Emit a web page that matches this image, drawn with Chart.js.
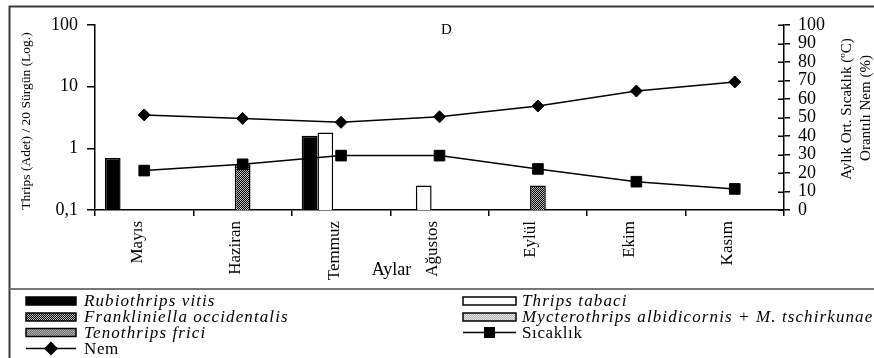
<!DOCTYPE html>
<html>
<head>
<meta charset="utf-8">
<script src="https://cdn.jsdelivr.net/npm/chart.js@4.4.1/dist/chart.umd.min.js"></script>
<style>
  html, body { margin: 0; padding: 0; background: #fff; }
  #wrap { width: 874px; height: 358px; position: relative; }
</style>
</head>
<body>
<div id="wrap"><canvas id="c" width="874" height="358"></canvas></div>
<script>
// Months on the x axis
const months = ['Mayıs', 'Haziran', 'Temmuz', 'Ağustos', 'Eylül', 'Ekim', 'Kasım'];

// Thrips counts per 20 shoots (log axis)
const rubiothripsVitis = [0.7, null, 1.6, null, null, null, null];
const thripsTabaci     = [null, null, 1.8, 0.25, null, null, null];
const franklOccident   = [null, 0.55, null, null, 0.25, null, null];
const mycterothrips    = [null, null, null, null, null, null, null];
const tenothripsFrici  = [null, null, null, null, null, null, null];

// Monthly mean temperature (°C) and relative humidity (%)
const nem      = [51.4, 49.5, 47.4, 50.4, 56.2, 64.3, 69.2];
const sicaklik = [21.3, 24.7, 29.4, 29.4, 22.2, 15.3, 11.4];

// Axis tick values
const logTicks = [0.1, 1, 10, 100];
const rightTicks = [0, 10, 20, 30, 40, 50, 60, 70, 80, 90, 100];

const SERIF = '"Liberation Serif", "Times New Roman", serif';

// small checkerboard fills for the hatched bars
function checker(a, b, cell) {
  const cv = document.createElement('canvas');
  cv.width = cv.height = cell * 2;
  const g = cv.getContext('2d');
  g.fillStyle = a; g.fillRect(0, 0, cell * 2, cell * 2);
  g.fillStyle = b;
  g.fillRect(0, 0, cell, cell);
  g.fillRect(cell, cell, cell, cell);
  return g.createPattern(cv, 'repeat');
}
const ctx = document.getElementById('c').getContext('2d');
const fillFrankl = checker('#000000', '#bdbdbd', 1);
const fillMycter = checker('#b4b4b4', '#e6e6e6', 1);
const fillTeno   = checker('#6e6e6e', '#b0b0b0', 1);

const barBase = { type: 'bar', yAxisID: 'y', borderColor: '#000', borderWidth: 1.5,
  categoryPercentage: 0.8, barPercentage: 1.0, order: 2 };

const datasets = [
  Object.assign({}, barBase, { label: 'Rubiothrips vitis', data: rubiothripsVitis, backgroundColor: '#000' }),
  Object.assign({}, barBase, { label: 'Thrips tabaci', data: thripsTabaci, backgroundColor: '#fff' }),
  Object.assign({}, barBase, { label: 'Frankliniella occidentalis', data: franklOccident, backgroundColor: fillFrankl }),
  Object.assign({}, barBase, { label: 'Mycterothrips albidicornis + M. tschirkunae', data: mycterothrips, backgroundColor: fillMycter }),
  Object.assign({}, barBase, { label: 'Tenothrips frici', data: tenothripsFrici, backgroundColor: fillTeno }),
  { type: 'line', label: 'Sıcaklık', data: sicaklik, yAxisID: 'y1', borderColor: '#000', borderWidth: 1.5,
    pointStyle: 'rect', pointRadius: 7.5, pointBackgroundColor: '#000', pointBorderColor: '#000',
    pointBorderWidth: 1, tension: 0, order: 0 },
  { type: 'line', label: 'Nem', data: nem, yAxisID: 'y1', borderColor: '#000', borderWidth: 1.5,
    pointStyle: 'rectRot', pointRadius: 6, pointBackgroundColor: '#000', pointBorderColor: '#000',
    pointBorderWidth: 1, tension: 0, order: 0 }
];

// legend grid: [dataset label, column, row]
const legendLayout = [
  ['Rubiothrips vitis', 0, 0], ['Thrips tabaci', 1, 0],
  ['Frankliniella occidentalis', 0, 1], ['Mycterothrips albidicornis + M. tschirkunae', 1, 1],
  ['Tenothrips frici', 0, 2], ['Sıcaklık', 1, 2],
  ['Nem', 0, 3]
];

const decor = {
  id: 'decor',
  afterDraw(chart) {
    const c = chart.ctx;
    c.save();
    // outer frame and legend separator
    c.strokeStyle = '#3a3a3a'; c.lineWidth = 2;
    c.beginPath();
    c.moveTo(9.5, 358); c.lineTo(9.5, 6.5); c.lineTo(874, 6.5);
    c.stroke();
    c.strokeStyle = '#777'; c.lineWidth = 2;
    c.beginPath(); c.moveTo(9.5, 289); c.lineTo(874, 289); c.stroke();

    // inner halves of the right-axis ticks
    const y1 = chart.scales.y1;
    c.strokeStyle = '#000'; c.lineWidth = 1.5;
    rightTicks.forEach(v => {
      const py = Math.round(y1.getPixelForValue(v)) + 0.25;
      c.beginPath(); c.moveTo(y1.left - 6, py); c.lineTo(y1.left, py); c.stroke();
    });

    c.fillStyle = '#000';
    // panel letter
    c.font = '15px ' + SERIF; c.textAlign = 'center'; c.textBaseline = 'middle';
    c.fillText('D', 446.5, 30);
    // x title
    c.font = '18px ' + SERIF; c.textBaseline = 'alphabetic';
    c.fillText('Aylar', 391.5, 275);

    // left title
    c.save(); c.translate(26, 121); c.rotate(-Math.PI / 2);
    c.font = '13.5px ' + SERIF; c.textBaseline = 'middle';
    c.fillText('Thrips (Adet) / 20 Sürgün (Log.)', 0, 0);
    c.restore();
    // right titles
    c.save(); c.translate(847, 109); c.rotate(-Math.PI / 2);
    c.font = '15px ' + SERIF; c.textBaseline = 'middle';
    c.fillText('Aylık Ort. Sıcaklık (ºC)', 0, 0);
    c.restore();
    c.save(); c.translate(866, 108); c.rotate(-Math.PI / 2);
    c.font = '15px ' + SERIF; c.textBaseline = 'middle';
    c.fillText('Orantılı Nem (%)', 0, 0);
    c.restore();

    // legend
    const colX = [[26, 76, 84], [463, 516, 522]];
    const rowY = [301, 317, 332.5, 348.5];
    legendLayout.forEach(([label, col, row]) => {
      const ds = chart.data.datasets.find(d => d.label === label);
      const [x0, x1, tx] = colX[col];
      const y = rowY[row];
      if (ds.type === 'bar') {
        c.fillStyle = ds.backgroundColor;
        c.fillRect(x0, y - 4, x1 - x0, 8);
        c.strokeStyle = '#000'; c.lineWidth = 1.5;
        c.strokeRect(x0, y - 4, x1 - x0, 8);
        c.font = 'italic 17px ' + SERIF;
        c.letterSpacing = '1.1px';
      } else {
        c.strokeStyle = '#000'; c.lineWidth = 1.5;
        c.beginPath(); c.moveTo(x0, y); c.lineTo(x1, y); c.stroke();
        const mx = (x0 + x1) / 2;
        c.fillStyle = '#000';
        c.beginPath();
        if (ds.pointStyle === 'rect') {
          c.rect(mx - 5.5, y - 5.5, 11, 11);
        } else {
          c.moveTo(mx - 7, y); c.lineTo(mx, y - 7); c.lineTo(mx + 7, y); c.lineTo(mx, y + 7); c.closePath();
        }
        c.fill();
        c.font = '17px ' + SERIF;
        c.letterSpacing = '0.6px';
      }
      c.fillStyle = '#000'; c.textAlign = 'left'; c.textBaseline = 'middle';
      c.fillText(label, tx, y + 1);
      c.letterSpacing = '0px';
    });
    c.restore();
  }
};

const tickFont = { family: SERIF, size: 18 };

new Chart(ctx, {
  data: { labels: months, datasets: datasets },
  options: {
    responsive: false,
    animation: false,
    layout: { padding: { top: 25, left: 0, right: 0, bottom: 0 } },
    plugins: { legend: { display: false }, tooltip: { enabled: false }, title: { display: false } },
    scales: {
      x: {
        offset: true,
        grid: { display: true, offset: true, drawOnChartArea: false, tickLength: 6, color: '#000', lineWidth: 1.5 },
        border: { display: true, color: '#000', width: 1.5 },
        ticks: { font: { family: SERIF, size: 17 }, color: '#000', minRotation: 90, maxRotation: 90,
                 padding: 5, labelOffset: -7, autoSkip: false },
        afterFit(s) { s.height = 148; }
      },
      y: {
        type: 'logarithmic', position: 'left', min: 0.1, max: 100,
        afterBuildTicks(s) { s.ticks = logTicks.map(v => ({ value: v })); },
        grid: { drawOnChartArea: false, tickLength: 8, color: '#000', lineWidth: 1.5 },
        border: { display: true, color: '#000', width: 1.5 },
        ticks: { font: tickFont, color: '#000', padding: 9, autoSkip: false,
                 callback: v => String(v).replace('.', ',') },
        afterFit(s) { s.width = 95; }
      },
      y1: {
        position: 'right', min: 0, max: 100,
        afterBuildTicks(s) { s.ticks = rightTicks.map(v => ({ value: v })); },
        grid: { drawOnChartArea: false, tickLength: 6, color: '#000', lineWidth: 1.5 },
        border: { display: true, color: '#000', width: 1.5 },
        ticks: { font: tickFont, color: '#000', padding: 8, autoSkip: false },
        afterFit(s) { s.width = 90; }
      }
    }
  },
  plugins: [decor]
});
</script>
</body>
</html>
